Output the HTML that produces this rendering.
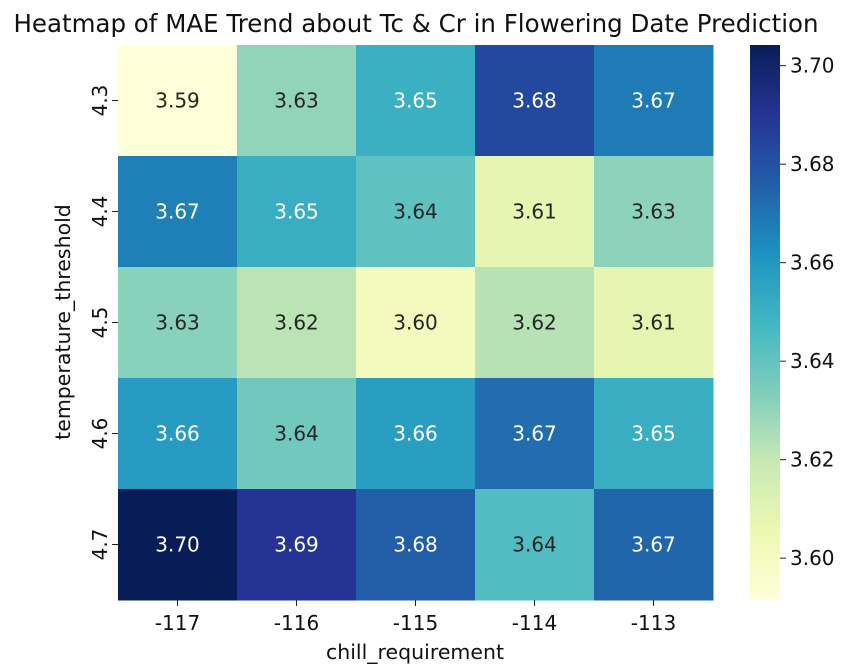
<!DOCTYPE html>
<html><head><meta charset="utf-8"><style>
body{margin:0;background:#fff;font-family:"Liberation Sans","DejaVu Sans",sans-serif}
text{font-family:"DejaVu Sans","Liberation Sans",sans-serif}
</style></head><body>
<svg id="chart" width="854" height="667" xmlns="http://www.w3.org/2000/svg">
<defs><linearGradient id="cbg" x1="0" y1="1" x2="0" y2="0"></linearGradient></defs>
<text x="416" y="32" font-size="24.5" text-anchor="middle" fill="#111">Heatmap of MAE Trend about Tc &amp; Cr in Flowering Date Prediction</text>
<g id="cells"></g><g id="xt"></g><g id="yt"></g>
<rect id="cbar" x="750" y="45" width="30" height="555" fill="url(#cbg)"/>
<g id="ct"></g>
<text x="415" y="659" font-size="20.5" text-anchor="middle" fill="#111">chill_requirement</text>
<text transform="translate(70,322) rotate(-90)" font-size="20.5" text-anchor="middle" fill="#111">temperature_threshold</text>
</svg>
<script>
const xCats=["-117","-116","-115","-114","-113"];
const yCats=["4.3","4.4","4.5","4.6","4.7"];
const row43=[3.5915,3.630,3.650,3.683,3.668];
const row44=[3.667,3.651,3.641,3.608,3.631];
const row45=[3.632,3.622,3.601,3.623,3.608];
const row46=[3.658,3.637,3.657,3.672,3.651];
const row47=[3.7042,3.690,3.676,3.644,3.674];
const cbTicks=[3.60,3.62,3.64,3.66,3.68,3.70];
const vmin=3.5915,vmax=3.7042;
const rows=[row43,row44,row45,row46,row47];
const stops=["#ffffd9","#edf8b1","#c7e9b4","#7fcdbb","#41b6c4","#1d91c0","#225ea8","#253494","#081d58"];
const NS="http://www.w3.org/2000/svg";
const X0=118,Y0=45,W=595,H=555;
const cw=W/xCats.length,ch=H/yCats.length;
function hx(h){return [1,3,5].map(i=>parseInt(h.substr(i,2),16));}
function cmap(v){let t=Math.max(0,Math.min(1,(v-vmin)/(vmax-vmin)))*(stops.length-1);let i=Math.min(Math.floor(t),stops.length-2),f=t-i;const a=hx(stops[i]),b=hx(stops[i+1]);return "rgb("+a.map((c,k)=>Math.round(c+(b[k]-c)*f)).join(",")+")";}
function cy(v){return Y0+H-(v-vmin)/(vmax-vmin)*H;}
function mk(tag,at,parent,txt){const e=document.createElementNS(NS,tag);for(const k in at)e.setAttribute(k,at[k]);if(txt!==undefined)e.textContent=txt;parent.appendChild(e);return e;}
const g=document.getElementById("cells");
rows.forEach((r,ri)=>r.forEach((v,ci)=>{
 const rc=mk("rect",{x:X0+ci*cw,y:Y0+ri*ch,width:cw+0.5,height:ch+0.5,fill:cmap(v)},g);
 
 
 const t=mk("text",{x:X0+(ci+.5)*cw,y:Y0+(ri+.5)*ch+7,"font-size":20,"text-anchor":"middle",fill:(v>3.648?"#fff":"#262626")},g,v.toFixed(2));
 
 
}));
const xt=document.getElementById("xt");
xCats.forEach((c,i)=>{const x=X0+(i+.5)*cw;
 const l=mk("line",{x1:x,x2:x,y1:Y0+H,y2:Y0+H+6,stroke:"#222"},xt);
 
 const t=mk("text",{x:x,y:Y0+H+30,"font-size":20,"text-anchor":"middle",fill:"#111"},xt,c);
 });
const yt=document.getElementById("yt");
yCats.forEach((c,i)=>{const y=Y0+(i+.5)*ch;
 const l=mk("line",{x1:X0-6,x2:X0,y1:y,y2:y,stroke:"#222"},yt);
 
 const t=mk("text",{transform:`translate(${X0-11},${y}) rotate(-90)`,"font-size":20,"text-anchor":"middle",fill:"#111"},yt,c);
 });
const gr=document.getElementById("cbg");
stops.forEach((s,i)=>mk("stop",{offset:i/(stops.length-1),"stop-color":s},gr));
const ct=document.getElementById("ct");
cbTicks.forEach(v=>{const y=cy(v);
 const l=mk("line",{x1:780,x2:786,y1:y,y2:y,stroke:"#222"},ct);
 
 const t=mk("text",{x:790,y:y+7,"font-size":20,fill:"#111"},ct,v.toFixed(2));
 });
</script>
</body></html>
